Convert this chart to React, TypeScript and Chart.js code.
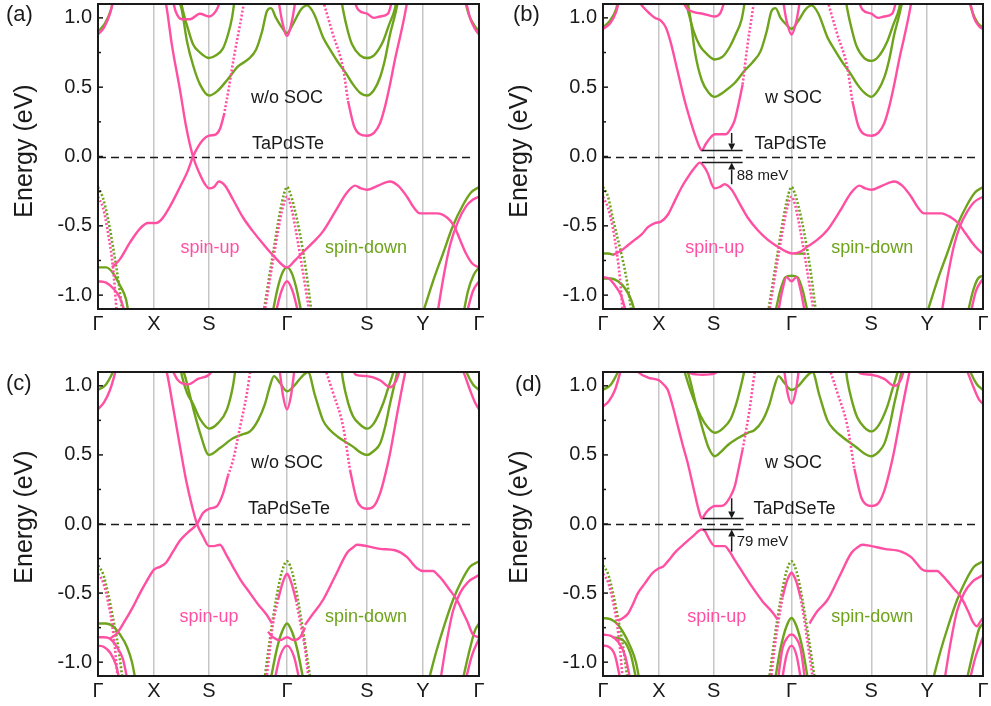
import React, { useEffect, useRef } from 'react';
import { Chart, registerables } from 'chart.js';
Chart.register(...registerables);

const FONT = "'Liberation Sans', Arial, Helvetica, sans-serif";
const PINK = '#ff4fa3';
const GREEN = '#6ea31c';
const INK = '#1a1a1a';

// k-path tick positions (path length units) and labels
const kTicks = [0, 56, 111, 189, 269, 325, 381];
const kLabels = ['Γ', 'X', 'S', 'Γ', 'S', 'Y', 'Γ'];
const eTicks = [-1, -0.5, 0, 0.5, 1];
const eMinor = [-0.75, -0.25, 0.25, 0.75];

// ---------------- Panel (a): TaPdSTe, w/o SOC ----------------
const aUp = [
  [[14,-0.80],[22,-0.74],[32,-0.62],[42,-0.52],[50,-0.48],[58,-0.48],[64,-0.45],[72,-0.36],[82,-0.22],[90,-0.1],[95,0.0],[100,0.07],[105,0.12],[111,0.15],[118,0.16],[122,0.2],[126,0.3]],
  [[66,1.15],[68,1.1],[74,0.8],[82,0.48],[88,0.22],[95,0.0],[102,-0.13],[107,-0.2],[111,-0.23],[116,-0.22],[121,-0.18],[127,-0.21],[135,-0.31],[145,-0.44],[155,-0.54],[165,-0.63],[176,-0.72],[189,-0.80],[197,-0.75],[205,-0.69],[215,-0.62],[225,-0.54],[237,-0.4],[249,-0.26],[257,-0.21],[263,-0.23],[269,-0.24],[280,-0.21],[292,-0.18],[300,-0.21],[309,-0.29],[316,-0.37],[322,-0.41],[330,-0.41],[339,-0.41],[349,-0.44],[356,-0.5],[362,-0.6],[368,-0.7],[374,-0.77],[381,-0.80]],
  [[74,1.15],[78,1.04],[84,0.99],[92,0.99],[102,1.03],[111,1.01],[118,1.05],[124,1.15]],
  [[180,1.15],[184,0.98],[189,0.87],[194,0.98],[198,1.15]],
  [[250,0.40],[256,0.22],[262,0.16],[269,0.15],[276,0.17],[282,0.24],[287,0.36],[292,0.52],[297,0.7],[302,0.86],[307,1.03],[310,1.15]],
  [[255,1.15],[260,1.06],[269,1.03],[276,1.0],[282,1.01],[290,1.03],[295,1.15]],
  [[0,0.88],[6,0.93],[12,1.03],[16,1.15]],
  [[367,1.15],[372,1.0],[377,0.92],[381,0.88]],
  [[0,-0.90],[8,-0.91],[15,-0.95],[22,-1.02],[28,-1.15]],
  [[177,-1.15],[183,-0.98],[189,-0.90],[195,-0.98],[201,-1.15]],
  [[339,-1.15],[346,-0.85],[352,-0.64],[360,-0.47],[368,-0.36],[375,-0.31],[381,-0.29]],
  [[368,-1.15],[375,-0.97],[381,-0.90]],
];
const aUpDot = [
  [[126,0.3],[131,0.5],[136,0.72],[142,0.95],[147,1.15]],
  [[224,1.15],[235,0.88],[245,0.64],[250,0.40]],
  [[0,-0.29],[5,-0.37],[10,-0.55],[15,-0.8],[19,-1.15]],
  [[166,-1.15],[175,-0.75],[181,-0.5],[185,-0.36],[189,-0.29],[193,-0.36],[197,-0.5],[203,-0.75],[212,-1.15]],
];
const aDown = [
  [[0,0.90],[7,0.96],[13,1.06],[16,1.15]],
  [[0,-0.80],[8,-0.80],[15,-0.84],[22,-0.93],[28,-1.03],[31,-1.15]],
  [[80,1.15],[84,1.05],[89,0.83],[95,0.66],[102,0.52],[111,0.44],[119,0.47],[129,0.55],[140,0.65],[150,0.70],[158,0.77],[164,0.9],[169,1.05],[173,1.07],[178,1.0],[184,0.93],[189,0.89],[196,0.97],[203,1.06],[209,1.09],[216,1.03],[225,0.86],[233,0.76],[240,0.68],[248,0.6],[255,0.52],[262,0.46],[269,0.44],[276,0.48],[282,0.57],[287,0.7],[292,0.88],[297,1.02],[301,1.15]],
  [[82,1.15],[85,1.05],[90,0.92],[95,0.81],[102,0.75],[111,0.71],[118,0.73],[125,0.78],[130,0.88],[134,1.0],[137,1.15]],
  [[243,1.15],[245,1.06],[250,0.9],[254,0.81],[262,0.73],[269,0.71],[276,0.73],[285,0.83],[291,0.95],[297,1.07],[299,1.15]],
  [[366,1.15],[371,1.02],[376,0.95],[381,0.90]],
  [[174,-1.15],[180,-0.94],[185,-0.83],[189,-0.80],[193,-0.83],[198,-0.94],[204,-1.15]],
  [[324,-1.15],[335,-0.9],[345,-0.7],[355,-0.5],[365,-0.35],[373,-0.26],[381,-0.22]],
  [[365,-1.15],[370,-0.97],[376,-0.85],[381,-0.80]],
];
const aDownDot = [
  [[0,-0.22],[5,-0.3],[10,-0.45],[15,-0.65],[20,-0.88],[25,-1.15]],
  [[165,-1.15],[175,-0.70],[182,-0.40],[186,-0.27],[189,-0.22],[192,-0.26],[196,-0.36],[202,-0.56],[208,-0.82],[214,-1.15]],
];

// ---------------- Panel (b): TaPdSTe, w SOC ----------------
const bUp = [
  [[10,-0.71],[18,-0.68],[25,-0.64],[32,-0.60],[39,-0.56],[45,-0.51],[52,-0.48],[58,-0.47],[65,-0.42],[72,-0.32],[79,-0.22],[86,-0.14],[92,-0.08],[97,-0.044],[101,-0.07],[105,-0.12],[109,-0.2],[112,-0.23],[117,-0.22],[122,-0.2],[129,-0.24],[137,-0.34],[145,-0.44],[155,-0.53],[165,-0.6],[175,-0.65],[182,-0.68],[190,-0.70],[197,-0.69],[205,-0.65],[215,-0.6],[225,-0.53],[237,-0.4],[249,-0.26],[257,-0.21],[263,-0.23],[269,-0.24],[280,-0.21],[292,-0.18],[300,-0.21],[309,-0.29],[316,-0.37],[322,-0.41],[330,-0.41],[339,-0.41],[349,-0.44],[356,-0.48],[363,-0.55],[370,-0.62],[376,-0.67],[381,-0.70]],
  [[33,1.15],[40,1.08],[47,1.03],[52,1.0],[58,0.98],[63,0.93],[68,0.82],[74,0.64],[82,0.40],[88,0.25],[92,0.16],[96,0.08],[99,0.044],[103,0.09],[107,0.13],[112,0.16],[118,0.16],[123,0.16],[128,0.2],[132,0.26],[136,0.38],[140,0.52]],
  [[78,1.15],[84,1.07],[92,1.04],[100,1.03],[112,1.01],[118,1.04],[123,1.15]],
  [[180,1.15],[184,0.98],[189,0.88],[194,0.98],[198,1.15]],
  [[250,0.40],[256,0.22],[262,0.16],[269,0.15],[276,0.17],[282,0.24],[287,0.36],[292,0.52],[297,0.7],[302,0.86],[307,1.03],[310,1.15]],
  [[255,1.15],[260,1.06],[269,1.03],[276,1.0],[282,1.01],[290,1.03],[295,1.15]],
  [[0,0.92],[7,0.96],[13,1.04],[17,1.15]],
  [[367,1.15],[372,1.0],[377,0.94],[381,0.92]],
  [[0,-0.87],[6,-0.88],[12,-0.93],[18,-1.0],[24,-1.15]],
  [[175,-1.15],[180,-0.96],[184,-0.87],[189,-0.90],[194,-0.87],[198,-0.96],[203,-1.15]],
  [[339,-1.15],[346,-0.85],[352,-0.64],[358,-0.5],[365,-0.4],[372,-0.33],[381,-0.29]],
  [[368,-1.15],[374,-0.97],[381,-0.88]],
];
const bUpDot = [
  [[140,0.52],[145,0.81],[150,1.05],[152,1.15]],
  [[224,1.15],[235,0.88],[245,0.64],[250,0.40]],
  [[0,-0.29],[5,-0.37],[10,-0.52],[14,-0.70],[17,-0.88],[20,-1.15]],
  [[166,-1.15],[175,-0.75],[181,-0.5],[185,-0.36],[189,-0.29],[193,-0.36],[197,-0.5],[203,-0.75],[212,-1.15]],
];
const bDown = [
  [[0,0.93],[7,0.98],[13,1.06],[16,1.15]],
  [[0,-0.70],[5,-0.70],[11,-0.71]],
  [[0,-0.88],[8,-0.88],[15,-0.9],[22,-0.95],[28,-1.03],[33,-1.15]],
  [[84,1.15],[88,0.98],[92,0.76],[99,0.55],[106,0.46],[112,0.43],[118,0.45],[122,0.47],[132,0.53],[142,0.62],[150,0.68],[158,0.76],[164,0.9],[169,1.05],[173,1.07],[178,1.0],[184,0.95],[189,0.92],[196,0.98],[203,1.06],[209,1.09],[216,1.03],[225,0.86],[233,0.76],[240,0.68],[248,0.6],[255,0.52],[262,0.46],[269,0.43],[276,0.48],[282,0.57],[287,0.7],[292,0.88],[297,1.02],[301,1.15]],
  [[82,1.15],[86,1.03],[91,0.9],[97,0.8],[104,0.74],[112,0.70],[120,0.72],[127,0.79],[133,0.88],[139,0.99],[143,1.15]],
  [[243,1.15],[245,1.06],[250,0.9],[254,0.8],[262,0.71],[269,0.69],[276,0.72],[285,0.83],[291,0.95],[297,1.07],[299,1.15]],
  [[366,1.15],[371,1.03],[376,0.96],[381,0.93]],
  [[192,-0.70],[198,-0.70],[203,-0.70]],
  [[172,-1.15],[178,-0.96],[183,-0.87],[189,-0.86],[195,-0.87],[200,-0.96],[206,-1.15]],
  [[324,-1.15],[335,-0.9],[345,-0.7],[355,-0.5],[365,-0.35],[373,-0.26],[381,-0.22]],
  [[365,-1.15],[371,-0.97],[376,-0.88],[381,-0.86]],
];
const bDownDot = [
  [[0,-0.22],[5,-0.29],[10,-0.45],[15,-0.6],[19,-0.72],[24,-0.9],[29,-1.15]],
  [[165,-1.15],[175,-0.70],[182,-0.40],[186,-0.27],[189,-0.22],[192,-0.26],[196,-0.36],[202,-0.56],[208,-0.82],[214,-1.15]],
];

// ---------------- Panel (c): TaPdSeTe, w/o SOC ----------------
const cUp = [
  [[12,-0.83],[19,-0.79],[27,-0.70],[35,-0.60],[42,-0.50],[49,-0.41],[56,-0.33],[62,-0.31],[68,-0.28],[75,-0.2],[82,-0.12],[90,-0.06],[99,0.0],[105,0.08],[111,0.11],[119,0.13],[125,0.22],[130,0.35]],
  [[66,1.15],[69,1.09],[75,0.85],[82,0.56],[88,0.32],[94,0.13],[99,0.0],[105,-0.09],[111,-0.16],[116,-0.16],[122,-0.15],[128,-0.22],[135,-0.31],[143,-0.41],[152,-0.50],[160,-0.58],[169,-0.66],[174,-0.72]],
  [[207,-0.73],[215,-0.65],[225,-0.55],[237,-0.38],[249,-0.21],[255,-0.17],[259,-0.15],[269,-0.16],[282,-0.18],[297,-0.19],[309,-0.24],[315,-0.29],[319,-0.32],[325,-0.34],[335,-0.34],[340,-0.37],[345,-0.41],[352,-0.48],[359,-0.55],[365,-0.64],[369,-0.70],[375,-0.80],[381,-0.82]],
  [[180,-0.55],[184,-0.44],[187,-0.38],[189,-0.36],[191,-0.38],[194,-0.44],[198,-0.55]],
  [[170,-0.78],[175,-0.82],[182,-0.84],[189,-0.82],[196,-0.84],[202,-0.82],[207,-0.75]],
  [[176,-1.15],[182,-0.96],[189,-0.88],[196,-0.96],[202,-1.15]],
  [[0,-0.82],[6,-0.82],[12,-0.83],[18,-0.88],[25,-0.98],[30,-1.15]],
  [[0,-0.88],[6,-0.89],[12,-0.93],[18,-1.02],[22,-1.15]],
  [[342,-1.15],[348,-0.88],[355,-0.63],[362,-0.5],[370,-0.42],[381,-0.37]],
  [[367,-1.15],[374,-0.95],[381,-0.83]],
  [[0,0.83],[6,0.88],[12,0.97],[17,1.09],[19,1.15]],
  [[72,1.15],[80,1.04],[90,1.01],[100,1.05],[111,1.08],[118,1.15]],
  [[181,1.15],[185,0.93],[189,0.83],[193,0.93],[197,1.15]],
  [[252,0.39],[259,0.17],[264,0.12],[269,0.11],[276,0.13],[282,0.22],[287,0.35],[292,0.51],[300,0.83],[307,1.09],[309,1.15]],
  [[252,1.15],[258,1.08],[269,1.07],[282,1.04],[292,0.99],[299,1.05],[303,1.15]],
  [[362,1.15],[366,1.09],[372,0.97],[377,0.88],[381,0.83]],
];
const cUpDot = [
  [[130,0.35],[135,0.46],[142,0.70],[149,0.95],[153,1.15]],
  [[226,1.15],[235,0.95],[245,0.71],[252,0.39]],
  [[168,-1.15],[172,-0.9],[175,-0.72],[180,-0.55]],
  [[198,-0.55],[202,-0.7],[207,-0.9],[211,-1.15]],
  [[0,-0.36],[5,-0.42],[10,-0.56],[14,-0.72],[17,-0.9],[20,-1.15]],
];
const cDown = [
  [[0,0.97],[8,1.01],[15,1.1],[18,1.15]],
  [[0,-0.72],[8,-0.72],[15,-0.74],[22,-0.8],[29,-0.89],[34,-1.0],[38,-1.15]],
  [[83,1.15],[87,1.07],[94,0.87],[102,0.66],[111,0.50],[122,0.55],[135,0.62],[145,0.65],[152,0.67],[160,0.75],[167,0.87],[172,1.0],[176,1.07],[182,1.02],[189,0.96],[196,1.0],[203,1.06],[210,1.1],[217,0.93],[225,0.75],[232,0.68],[240,0.63],[255,0.56],[262,0.52],[269,0.50],[276,0.53],[282,0.58],[287,0.7],[292,0.87],[299,1.09],[301,1.15]],
  [[82,1.15],[84,1.07],[89,0.95],[95,0.87],[102,0.76],[111,0.69],[120,0.73],[129,0.83],[135,1.0],[138,1.15]],
  [[243,1.15],[245,1.04],[250,0.88],[255,0.78],[262,0.72],[269,0.69],[276,0.73],[285,0.87],[290,0.98],[295,1.09],[297,1.15]],
  [[366,1.15],[369,1.09],[375,1.01],[381,0.97]],
  [[172,-1.15],[179,-0.9],[184,-0.78],[189,-0.72],[194,-0.78],[199,-0.9],[206,-1.15]],
  [[330,-1.15],[338,-0.93],[346,-0.74],[355,-0.55],[363,-0.42],[372,-0.31],[381,-0.27]],
  [[364,-1.15],[372,-0.9],[377,-0.77],[381,-0.72]],
];
const cDownDot = [
  [[0,-0.30],[5,-0.36],[10,-0.5],[15,-0.68],[20,-0.88],[25,-1.15]],
  [[166,-1.15],[175,-0.68],[182,-0.40],[186,-0.30],[189,-0.27],[192,-0.30],[196,-0.40],[203,-0.68],[213,-1.15]],
];

// ---------------- Panel (d): TaPdSeTe, w SOC ----------------
const dUp = [
  [[15,-0.70],[20,-0.68],[25,-0.65],[30,-0.58],[35,-0.50],[42,-0.43],[49,-0.36],[56,-0.32],[60,-0.31],[65,-0.27],[73,-0.2],[82,-0.14],[90,-0.09],[99,-0.04],[102,-0.05],[105,-0.09],[109,-0.14],[112,-0.16],[117,-0.16],[122,-0.16],[127,-0.2],[132,-0.26],[140,-0.35],[149,-0.45],[160,-0.56],[170,-0.64],[175,-0.69]],
  [[207,-0.72],[215,-0.63],[225,-0.55],[237,-0.38],[249,-0.21],[255,-0.17],[260,-0.15],[269,-0.16],[282,-0.18],[299,-0.20],[309,-0.24],[315,-0.29],[320,-0.33],[325,-0.34],[335,-0.34],[340,-0.37],[345,-0.41],[352,-0.47],[359,-0.53],[366,-0.63],[371,-0.71],[375,-0.74],[378,-0.71],[381,-0.68]],
  [[30,1.15],[35,1.1],[45,1.06],[56,1.04],[62,1.0],[65,0.97],[70,0.85],[75,0.71],[80,0.57],[85,0.44],[92,0.22],[96,0.1],[99,0.04],[103,0.08],[107,0.11],[112,0.13],[118,0.13],[122,0.14],[127,0.19],[132,0.27],[136,0.4],[140,0.54]],
  [[180,-0.53],[184,-0.42],[187,-0.37],[189,-0.35],[191,-0.37],[194,-0.42],[198,-0.53]],
  [[175,-1.15],[180,-0.9],[185,-0.82],[189,-0.80],[193,-0.82],[198,-0.9],[203,-1.15]],
  [[179,-1.15],[184,-0.95],[189,-0.88],[194,-0.95],[199,-1.15]],
  [[0,-0.80],[8,-0.81],[15,-0.85],[22,-0.95],[28,-1.15]],
  [[0,-0.88],[6,-0.89],[12,-0.95],[18,-1.15]],
  [[342,-1.15],[348,-0.88],[355,-0.63],[362,-0.5],[370,-0.42],[381,-0.37]],
  [[367,-1.15],[374,-0.95],[381,-0.82]],
  [[0,0.85],[6,0.89],[12,0.97],[17,1.09],[19,1.15]],
  [[80,1.15],[88,1.09],[100,1.08],[112,1.09],[120,1.15]],
  [[181,1.15],[185,0.95],[189,0.87],[193,0.95],[197,1.15]],
  [[252,0.40],[259,0.19],[264,0.14],[269,0.13],[276,0.15],[282,0.24],[287,0.37],[292,0.53],[300,0.84],[307,1.09],[309,1.15]],
  [[252,1.15],[258,1.09],[269,1.08],[282,1.05],[292,1.0],[299,1.05],[303,1.15]],
  [[362,1.15],[366,1.09],[372,0.98],[377,0.9],[381,0.87]],
];
const dUpDot = [
  [[140,0.54],[147,0.83],[152,1.09],[154,1.15]],
  [[226,1.15],[235,0.95],[245,0.71],[252,0.40]],
  [[168,-1.15],[172,-0.9],[176,-0.7],[180,-0.53]],
  [[198,-0.53],[202,-0.7],[206,-0.9],[211,-1.15]],
  [[0,-0.36],[5,-0.42],[10,-0.56],[14,-0.72],[17,-0.9],[20,-1.15]],
];
const dDown = [
  [[0,0.97],[8,1.01],[15,1.1],[18,1.15]],
  [[0,-0.68],[8,-0.69],[14,-0.72],[20,-0.78],[27,-0.88],[33,-1.0],[37,-1.15]],
  [[10,-0.82],[20,-0.84],[28,-0.95],[34,-1.15]],
  [[83,1.15],[87,1.05],[93,0.87],[101,0.66],[106,0.55],[112,0.49],[118,0.52],[125,0.57],[135,0.62],[145,0.66],[152,0.68],[160,0.75],[167,0.87],[172,1.0],[176,1.07],[182,1.02],[189,0.97],[196,1.0],[203,1.06],[210,1.1],[217,0.93],[225,0.75],[232,0.68],[240,0.63],[255,0.55],[262,0.51],[269,0.49],[276,0.52],[282,0.58],[287,0.7],[292,0.87],[299,1.09],[301,1.15]],
  [[80,1.15],[84,1.05],[90,0.92],[98,0.78],[105,0.70],[112,0.66],[120,0.69],[128,0.76],[134,0.88],[139,1.02],[143,1.15]],
  [[243,1.15],[245,1.04],[250,0.88],[255,0.77],[262,0.70],[269,0.67],[276,0.71],[285,0.85],[290,0.97],[295,1.09],[297,1.15]],
  [[366,1.15],[369,1.09],[375,1.01],[381,0.97]],
  [[172,-1.15],[178,-0.9],[184,-0.74],[189,-0.68],[194,-0.74],[200,-0.9],[206,-1.15]],
  [[330,-1.15],[338,-0.93],[346,-0.74],[355,-0.55],[363,-0.42],[372,-0.31],[381,-0.27]],
  [[364,-1.15],[372,-0.9],[377,-0.76],[381,-0.72]],
];
const dDownDot = [
  [[0,-0.30],[5,-0.36],[10,-0.5],[15,-0.68],[20,-0.88],[25,-1.15]],
  [[166,-1.15],[175,-0.68],[182,-0.40],[186,-0.30],[189,-0.27],[192,-0.30],[196,-0.40],[203,-0.68],[213,-1.15]],
];

// gap annotations (meV)
const gapB = 88;
const gapD = 79;

const panels = [
  {
    id: 'a', left: 0, top: 0, w: 495, h: 350, padTop: 4, padRight: 16, yW: 98, xH: 41,
    label: '(a)', labelX: 6, labelY: 15, titleX: 25, titleY: 151,
    up: aUp, upDot: aUpDot, dn: aDown, dnDot: aDownDot,
    texts: [
      { t: 'w/o SOC', k: 189, e: 0.42, c: INK, s: 18 },
      { t: 'TaPdSTe', k: 190, e: 0.09, c: INK, s: 18 },
      { t: 'spin-up', k: 112, e: -0.66, c: PINK, s: 18 },
      { t: 'spin-down', k: 268, e: -0.66, c: GREEN, s: 18 },
    ],
    gap: null,
  },
  {
    id: 'b', left: 495, top: 0, w: 496, h: 350, padTop: 4, padRight: 8, yW: 108, xH: 41,
    label: '(b)', labelX: 18, labelY: 15, titleX: 25, titleY: 151,
    up: bUp, upDot: bUpDot, dn: bDown, dnDot: bDownDot,
    texts: [
      { t: 'w SOC', k: 191, e: 0.42, c: INK, s: 18 },
      { t: 'TaPdSTe', k: 188, e: 0.09, c: INK, s: 18 },
      { t: 'spin-up', k: 112, e: -0.66, c: PINK, s: 18 },
      { t: 'spin-down', k: 270, e: -0.66, c: GREEN, s: 18 },
    ],
    gap: { mev: gapB, k1: 99, k2: 140, ka: 129, top: 0.17, bot: -0.2, tk: 134, te: -0.14 },
  },
  {
    id: 'c', left: 0, top: 360, w: 495, h: 346, padTop: 12, padRight: 16, yW: 98, xH: 30,
    label: '(c)', labelX: 6, labelY: 24, titleX: 25, titleY: 157,
    up: cUp, upDot: cUpDot, dn: cDown, dnDot: cDownDot,
    texts: [
      { t: 'w/o SOC', k: 189, e: 0.44, c: INK, s: 18 },
      { t: 'TaPdSeTe', k: 191, e: 0.11, c: INK, s: 18 },
      { t: 'spin-up', k: 111, e: -0.67, c: PINK, s: 18 },
      { t: 'spin-down', k: 268, e: -0.67, c: GREEN, s: 18 },
    ],
    gap: null,
  },
  {
    id: 'd', left: 495, top: 360, w: 496, h: 346, padTop: 12, padRight: 8, yW: 108, xH: 30,
    label: '(d)', labelX: 20, labelY: 25, titleX: 25, titleY: 157,
    up: dUp, upDot: dUpDot, dn: dDown, dnDot: dDownDot,
    texts: [
      { t: 'w SOC', k: 191, e: 0.44, c: INK, s: 18 },
      { t: 'TaPdSeTe', k: 192, e: 0.11, c: INK, s: 18 },
      { t: 'spin-up', k: 114, e: -0.67, c: PINK, s: 18 },
      { t: 'spin-down', k: 270, e: -0.67, c: GREEN, s: 18 },
    ],
    gap: { mev: gapD, k1: 100, k2: 141, ka: 129, top: 0.186, bot: -0.2, tk: 134, te: -0.13 },
  },
];

function toDatasets(bands, color, dotted) {
  return bands.map((b) => ({
    data: b.map(([k, e]) => ({ x: k, y: e })),
    borderColor: color,
    borderWidth: dotted ? 2.6 : 2.4,
    borderDash: dotted ? [2, 2] : [],
    borderCapStyle: 'butt',
    pointRadius: 0,
    fill: false,
    cubicInterpolationMode: 'monotone',
    clip: 0,
  }));
}

function arrow(ctx, x, y0, y1) {
  const dir = y1 > y0 ? 1 : -1;
  const head = 7;
  ctx.beginPath();
  ctx.moveTo(x, y0);
  ctx.lineTo(x, y1 - dir * head);
  ctx.stroke();
  ctx.beginPath();
  ctx.moveTo(x, y1);
  ctx.lineTo(x - 3.5, y1 - dir * head);
  ctx.lineTo(x + 3.5, y1 - dir * head);
  ctx.closePath();
  ctx.fill();
}

function makePlugin(p) {
  return {
    id: 'decor' + p.id,
    beforeDatasetsDraw(chart) {
      const { ctx, chartArea: a, scales } = chart;
      const y = scales.y;
      ctx.save();
      ctx.strokeStyle = INK;
      ctx.lineWidth = 1.5;
      ctx.setLineDash([8, 5]);
      const y0 = Math.round(y.getPixelForValue(0)) + 0.5;
      ctx.beginPath();
      ctx.moveTo(a.left, y0);
      ctx.lineTo(a.right - 6, y0);
      ctx.stroke();
      ctx.restore();
    },
    afterDraw(chart) {
      const { ctx, chartArea: a, scales } = chart;
      const x = scales.x;
      const y = scales.y;
      ctx.save();
      ctx.strokeStyle = INK;
      ctx.lineWidth = 2;
      ctx.setLineDash([]);
      ctx.strokeRect(a.left, a.top, a.right - a.left, a.bottom - a.top);
      ctx.lineWidth = 1.5;
      eTicks.forEach((v) => {
        const py = y.getPixelForValue(v);
        ctx.beginPath();
        ctx.moveTo(a.left, py);
        ctx.lineTo(a.left + 5, py);
        ctx.stroke();
      });
      eMinor.forEach((v) => {
        const py = y.getPixelForValue(v);
        ctx.beginPath();
        ctx.moveTo(a.left, py);
        ctx.lineTo(a.left + 3, py);
        ctx.stroke();
      });
      ctx.textAlign = 'center';
      ctx.textBaseline = 'middle';
      p.texts.forEach((t) => {
        ctx.fillStyle = t.c;
        ctx.font = `${t.s}px ${FONT}`;
        ctx.fillText(t.t, x.getPixelForValue(t.k), y.getPixelForValue(t.e));
      });
      if (p.gap) {
        const g = p.gap;
        const half = g.mev / 2000;
        const x1 = x.getPixelForValue(g.k1);
        const x2 = x.getPixelForValue(g.k2);
        const yu = y.getPixelForValue(half);
        const yl = y.getPixelForValue(-half);
        ctx.strokeStyle = INK;
        ctx.fillStyle = INK;
        ctx.lineWidth = 1.5;
        ctx.beginPath();
        ctx.moveTo(x1, yu);
        ctx.lineTo(x2, yu);
        ctx.moveTo(x1, yl);
        ctx.lineTo(x2, yl);
        ctx.stroke();
        const xa = x.getPixelForValue(g.ka);
        arrow(ctx, xa, y.getPixelForValue(g.top), yu);
        arrow(ctx, xa, y.getPixelForValue(g.bot), yl);
        ctx.font = `15px ${FONT}`;
        ctx.textAlign = 'left';
        ctx.fillText(`${g.mev} meV`, x.getPixelForValue(g.tk), y.getPixelForValue(g.te));
      }
      ctx.fillStyle = INK;
      ctx.font = `22px ${FONT}`;
      ctx.textAlign = 'left';
      ctx.textBaseline = 'middle';
      ctx.fillText(p.label, p.labelX, p.labelY);
      ctx.translate(p.titleX, p.titleY);
      ctx.rotate(-Math.PI / 2);
      ctx.textAlign = 'center';
      ctx.font = `25px ${FONT}`;
      ctx.fillText('Energy (eV)', 0, 0);
      ctx.restore();
    },
  };
}

function Panel({ p }) {
  const ref = useRef(null);
  useEffect(() => {
    const datasets = [
      ...toDatasets(p.up, PINK, false),
      ...toDatasets(p.upDot, PINK, true),
      ...toDatasets(p.dn, GREEN, false),
      ...toDatasets(p.dnDot, GREEN, true),
    ];
    const chart = new Chart(ref.current, {
      type: 'line',
      data: { datasets },
      options: {
        responsive: false,
        maintainAspectRatio: false,
        animation: false,
        devicePixelRatio: 1,
        events: [],
        layout: { padding: { top: p.padTop, right: p.padRight, left: 0, bottom: 0 } },
        plugins: { legend: { display: false }, tooltip: { enabled: false }, title: { display: false } },
        scales: {
          x: {
            type: 'linear',
            min: 0,
            max: kTicks[kTicks.length - 1],
            afterBuildTicks: (s) => { s.ticks = kTicks.map((v) => ({ value: v })); },
            afterFit: (s) => { s.height = p.xH; s.paddingLeft = 0; s.paddingRight = 0; },
            ticks: {
              autoSkip: false,
              maxRotation: 0,
              padding: 3,
              color: INK,
              font: { size: 20, family: FONT },
              callback: (v) => kLabels[kTicks.indexOf(v)],
            },
            grid: {
              drawTicks: false,
              lineWidth: 1.5,
              color: (c) => (c.index === 0 || c.index === kTicks.length - 1 ? 'rgba(0,0,0,0)' : '#c6c6c6'),
            },
            border: { display: false },
          },
          y: {
            type: 'linear',
            min: -1.1,
            max: 1.1,
            afterBuildTicks: (s) => { s.ticks = eTicks.map((v) => ({ value: v })); },
            afterFit: (s) => { s.width = p.yW; s.paddingTop = 0; s.paddingBottom = 0; },
            ticks: {
              padding: 6,
              color: INK,
              font: { size: 20, family: FONT },
              callback: (v) => Number(v).toFixed(1),
            },
            grid: { display: false, drawTicks: false },
            border: { display: false },
          },
        },
      },
      plugins: [makePlugin(p)],
    });
    return () => chart.destroy();
  }, [p]);
  return (
    <canvas
      ref={ref}
      width={p.w}
      height={p.h}
      style={{ position: 'absolute', left: p.left, top: p.top, width: p.w, height: p.h, display: 'block' }}
    />
  );
}

export default function App() {
  return (
    <div style={{ position: 'absolute', left: 0, top: 0, width: 991, height: 706, background: '#fff', overflow: 'hidden' }}>
      {panels.map((p) => (
        <Panel key={p.id} p={p} />
      ))}
    </div>
  );
}
